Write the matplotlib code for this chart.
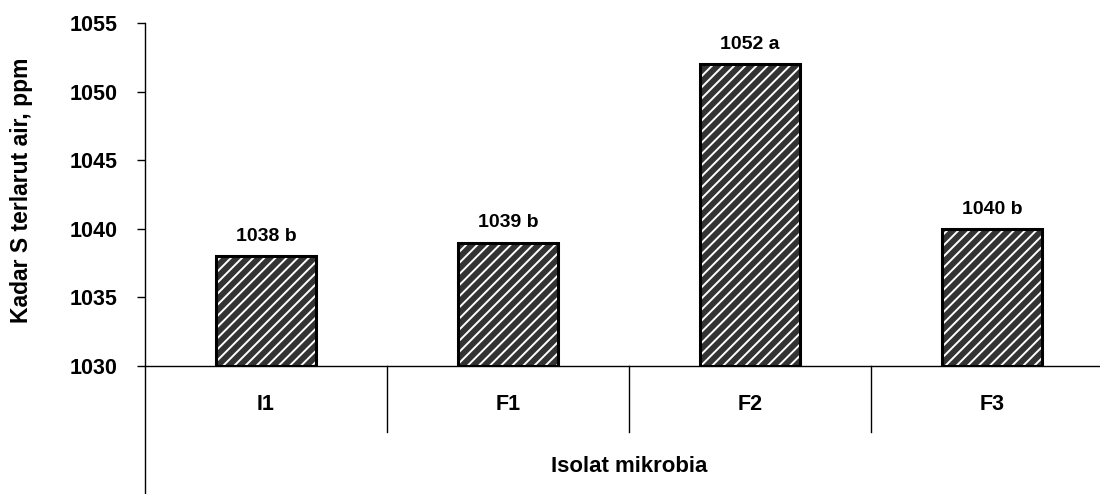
import matplotlib
matplotlib.use("Agg")
import matplotlib.pyplot as plt
from matplotlib.lines import Line2D

# data
categories = ["I1", "F1", "F2", "F3"]
values = [1038, 1039, 1052, 1040]
letters = ["b", "b", "a", "b"]
yticks = [1030, 1035, 1040, 1045, 1050, 1055]

plt.rcParams['font.family'] = ['Liberation Sans', 'DejaVu Sans']
plt.rcParams['hatch.linewidth'] = 1.4

W, H = 1100, 494
fig = plt.figure(figsize=(W / 100, H / 100), dpi=100)
# axes box in pixel terms: left 145, right 1113 (clipped), top 23, bottom 366
ax = fig.add_axes([145 / W, (H - 366) / H, 968 / W, 343 / H])

x = list(range(len(categories)))
# hatched fill, then black outline
ax.bar(x, [v - 1030 for v in values], bottom=1030, width=0.41,
       color='#333333', edgecolor='white', hatch='///', linewidth=0, zorder=2)
ax.bar(x, [v - 1030 for v in values], bottom=1030, width=0.41,
       facecolor='none', edgecolor='black', linewidth=2.2, zorder=3)

for xi, v, l in zip(x, values, letters):
    ax.annotate(f"{v} {l}", (xi, v), xytext=(0, 11), textcoords='offset points',
                ha='center', va='baseline', fontsize=14, fontweight='bold')

ax.set_xlim(-0.5, 3.5)
ax.set_ylim(1030, 1055)
ax.set_yticks(yticks)
ax.set_yticklabels([str(t) for t in yticks], fontsize=15.5, fontweight='bold')
ax.tick_params(axis='y', direction='out', length=6, width=1, pad=14)
ax.set_xticks([])

for s in ['top', 'right', 'left']:
    ax.spines[s].set_visible(False)
ax.spines['bottom'].set_linewidth(1)

# left axis line running down through the category area
ax.add_line(Line2D([0, 0], [-0.40, 1.0], transform=ax.transAxes,
                   color='black', linewidth=1, clip_on=False))
# category divider ticks
trans = ax.get_xaxis_transform()
for d in [0.5, 1.5, 2.5]:
    ax.add_line(Line2D([d, d], [0, -66 / 343], transform=trans,
                       color='black', linewidth=1, clip_on=False))

for xi, c in zip(x, categories):
    ax.text(xi, -38 / 343, c, transform=trans, ha='center', va='center',
            fontsize=15.5, fontweight='bold')

ax.text(1.5, -100 / 343, "Isolat mikrobia", transform=trans, ha='center',
        va='center', fontsize=16, fontweight='bold')

fig.text(22 / W, (H - 190) / H, "Kadar S terlarut air, ppm", rotation=90,
         ha='center', va='center', fontsize=16.5, fontweight='bold')

fig.savefig("out.png", dpi=100, facecolor='white')
